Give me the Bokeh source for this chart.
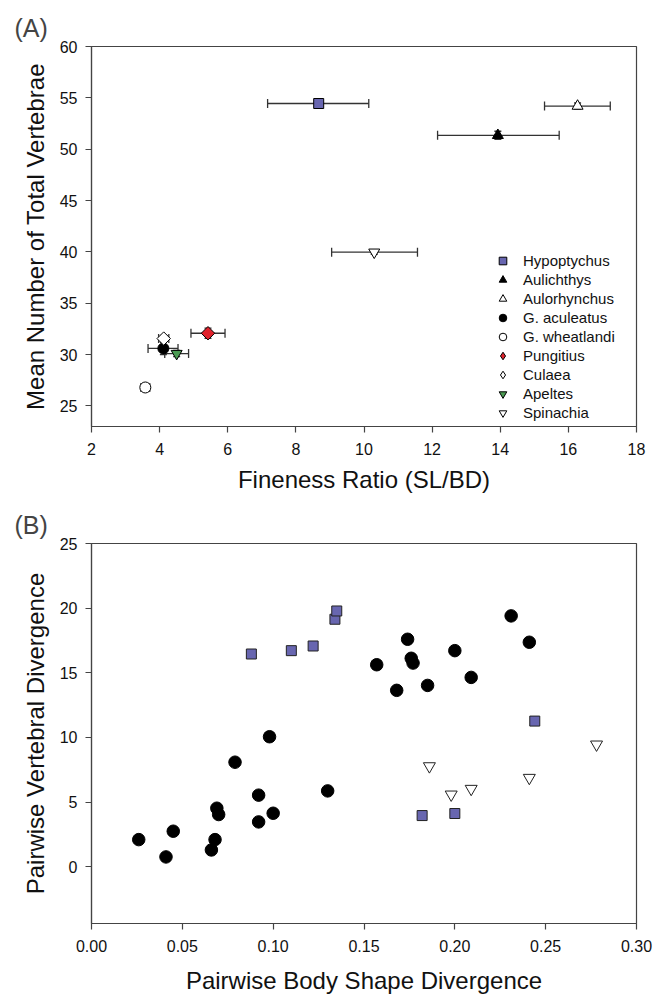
import math
import numpy as np
from bokeh.plotting import figure
from bokeh.models import (ColumnDataSource, Whisker, TeeHead, FixedTicker, Range1d,
                          Legend, LegendItem, NumeralTickFormatter)
from bokeh.layouts import column
from bokeh.embed import file_html
from bokeh.resources import INLINE

FONT = "Liberation Sans"

# ---------------- Panel A data ----------------
species = ["Hypoptychus", "Aulichthys", "Aulorhynchus", "G. aculeatus", "G. wheatlandi",
           "Pungitius", "Culaea", "Apeltes", "Spinachia"]
fineness = [8.67, 13.93, 16.27, 4.11, 3.58, 5.42, 4.12, 4.50, 10.30]
fineness_lo = [7.17, 12.16, 15.30, 3.66, 3.45, 4.92, 3.97, 4.15, 9.05]
fineness_hi = [10.14, 15.73, 17.23, 4.54, 3.71, 5.92, 4.27, 4.85, 11.57]
vertebrae = [54.45, 51.35, 54.2, 30.6, 26.8, 32.08, 31.56, 30.1, 39.97]
vertebrae_err = [0.25, 0.4, 0.3, 0.6, 0.2, 0.5, 0.3, 0.3, 0.2]
xticks_a = [2, 4, 6, 8, 10, 12, 14, 16, 18]
yticks_a = [25, 30, 35, 40, 45, 50, 55, 60]

# ---------------- Panel B data ----------------
circ_x = [0.026, 0.041, 0.045, 0.066, 0.068, 0.069, 0.070, 0.079, 0.092, 0.092, 0.098,
          0.100, 0.130, 0.157, 0.168, 0.174, 0.176, 0.177, 0.185, 0.200, 0.209, 0.231, 0.241]
circ_y = [2.09, 0.75, 2.74, 1.29, 2.09, 4.52, 4.03, 8.08, 5.53, 3.46, 10.05,
          4.13, 5.86, 15.62, 13.64, 17.59, 16.12, 15.75, 14.02, 16.71, 14.64, 19.40, 17.36]
sq_x = [0.088, 0.110, 0.122, 0.134, 0.135, 0.244, 0.182, 0.200]
sq_y = [16.45, 16.71, 17.07, 19.14, 19.78, 11.26, 3.95, 4.11]
tri_x = [0.186, 0.198, 0.209, 0.241, 0.278]
tri_y = [7.77, 5.58, 6.02, 6.87, 9.45]
xticks_b = [0.0, 0.05, 0.10, 0.15, 0.20, 0.25, 0.30]
yticks_b = [0, 5, 10, 15, 20, 25]

# ---------------- styles ----------------
BLUE = "#6866b0"
RED = "#e0222c"
GREEN = "#4a9a52"
AX = "#444444"
mk = ["square", "triangle", "triangle", "circle", "circle", "square", "square",
      "inverted_triangle", "inverted_triangle"]
legend_mk = ["square", "triangle", "triangle", "circle", "circle", "diamond", "diamond",
             "inverted_triangle", "inverted_triangle"]
fills = [BLUE, "black", "white", "black", "white", RED, "white", GREEN, "white"]
angles = [0, 0, 0, 0, 0, math.pi / 4, math.pi / 4, 0, 0]
sizes = [10, 11, 11, 11, 11, 9.5, 9.5, 11, 11]


def style(p, xlabel, ylabel, xt, yt):
    p.outline_line_color = AX
    p.outline_line_width = 1.2
    p.xgrid.visible = False
    p.ygrid.visible = False
    p.background_fill_color = "white"
    p.border_fill_color = "white"
    for ax in (p.xaxis[0], p.yaxis[0]):
        ax.axis_line_color = AX
        ax.axis_line_width = 1.2
        ax.major_tick_line_color = AX
        ax.major_tick_line_width = 1.2
        ax.major_tick_out = 6
        ax.major_tick_in = 0
        ax.minor_tick_out = 0
        ax.minor_tick_in = 0
        ax.major_label_text_font = FONT
        ax.major_label_text_font_size = "16px"
        ax.major_label_text_color = "#111111"
        ax.major_label_standoff = 8
        ax.axis_label_text_font = FONT
        ax.axis_label_text_font_size = "24px"
        ax.axis_label_text_font_style = "normal"
        ax.axis_label_text_color = "#111111"
        ax.axis_label_standoff = 8
    p.xaxis[0].major_label_standoff = 10
    p.xaxis[0].axis_label = xlabel
    p.yaxis[0].axis_label = ylabel
    p.xaxis[0].ticker = FixedTicker(ticks=xt)
    p.yaxis[0].ticker = FixedTicker(ticks=yt)
    p.title.text_font = FONT
    p.title.text_font_size = "25px"
    p.title.text_font_style = "normal"
    p.title.align = "left"


# ---------------- Figure A ----------------
p1 = figure(width=654, height=500, x_range=Range1d(2, 18), y_range=Range1d(23, 60),
            output_backend="svg", toolbar_location=None, title="(A)",
            min_border_left=88, min_border_right=18, min_border_top=46, min_border_bottom=74)
style(p1, "Fineness Ratio (SL/BD)", "Mean Number of Total Vertebrae", xticks_a, yticks_a)
p1.title.offset = -77

srcA = ColumnDataSource(dict(
    x=fineness, y=vertebrae, xlo=fineness_lo, xhi=fineness_hi,
    ylo=[v - e for v, e in zip(vertebrae, vertebrae_err)],
    yhi=[v + e for v, e in zip(vertebrae, vertebrae_err)]))

wx = Whisker(source=srcA, base="y", lower="xlo", upper="xhi", dimension="width",
             line_color="#333333", line_width=1.3,
             upper_head=TeeHead(size=9, line_color="#333333", line_width=1.3),
             lower_head=TeeHead(size=9, line_color="#333333", line_width=1.3))
wy = Whisker(source=srcA, base="x", lower="ylo", upper="yhi", dimension="height",
             line_color="#333333", line_width=1.3,
             upper_head=TeeHead(size=7, line_color="#333333", line_width=1.3),
             lower_head=TeeHead(size=7, line_color="#333333", line_width=1.3))
p1.add_layout(wx)
p1.add_layout(wy)

items = []
for i, name in enumerate(species):
    r = p1.scatter(x=[fineness[i]], y=[vertebrae[i]], marker=mk[i], size=sizes[i],
                   angle=angles[i], fill_color=fills[i], line_color="black", line_width=1)
    if legend_mk[i] != mk[i]:
        # legend-only swatch (NaN position, never drawn in the plot area)
        r = p1.scatter(x=np.array([np.nan]), y=np.array([np.nan]), marker=legend_mk[i],
                       fill_color=fills[i], line_color="black", line_width=1)
    items.append(LegendItem(label=name, renderers=[r]))

legend = Legend(items=items, location=(402, 4), orientation="vertical",
                glyph_width=19, glyph_height=19, label_height=15, spacing=0,
                padding=0, margin=0, label_standoff=11,
                label_text_font=FONT, label_text_font_size="15px",
                label_text_color="#111111",
                border_line_alpha=0, background_fill_alpha=0)
p1.add_layout(legend)

# ---------------- Figure B ----------------
p2 = figure(width=654, height=499, x_range=Range1d(0, 0.30), y_range=Range1d(-4.4, 25),
            output_backend="svg", toolbar_location=None, title="(B)",
            min_border_left=91, min_border_right=17, min_border_top=43, min_border_bottom=76)
style(p2, "Pairwise Body Shape Divergence", "Pairwise Vertebral Divergence", xticks_b, yticks_b)
p2.xaxis[0].formatter = NumeralTickFormatter(format="0.00")
p2.xaxis[0].axis_label_standoff = 12
p2.title.offset = -77

p2.scatter(x=circ_x, y=circ_y, marker="circle", size=12.5, fill_color="black",
           line_color="black")
p2.scatter(x=sq_x, y=sq_y, marker="square", size=10, fill_color=BLUE,
           line_color="#222222", line_width=1)
p2.scatter(x=tri_x, y=tri_y, marker="inverted_triangle", size=12, fill_color="white",
           line_color="#222222", line_width=1)

layout = column(p1, p2, spacing=0)
open("out.html", "w").write(file_html(layout, INLINE))
